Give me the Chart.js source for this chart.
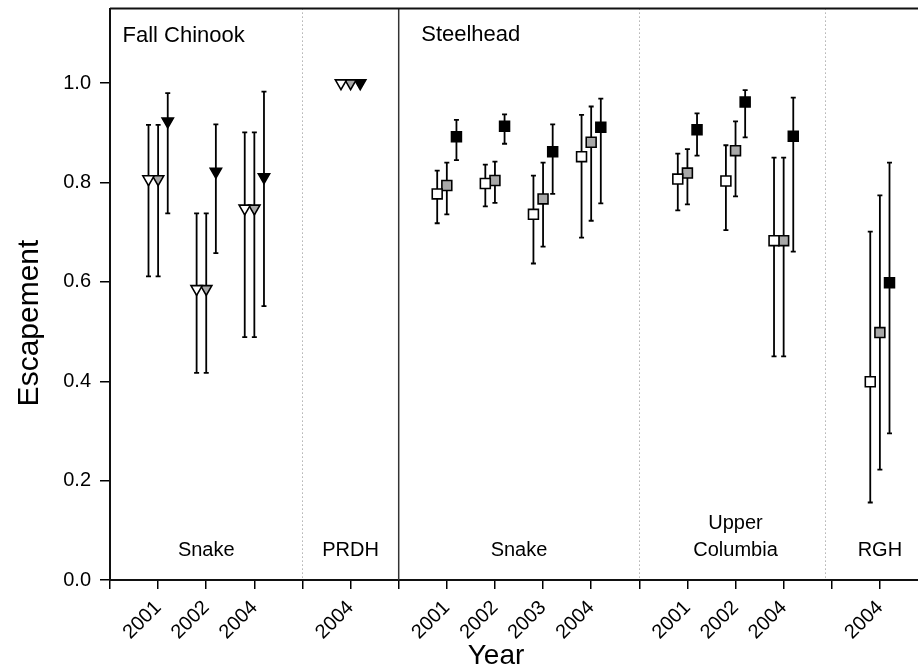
<!DOCTYPE html>
<html><head><meta charset="utf-8">
<script src="https://cdn.jsdelivr.net/npm/chart.js@4.4.1/dist/chart.umd.min.js"></script>
<style>
html,body{margin:0;padding:0;background:#fff;overflow:hidden;width:918px;height:667px}
#wrap{position:absolute;left:0;top:0;width:940px;height:667px}
</style></head>
<body><div id="wrap"><canvas id="c" width="940" height="667"></canvas></div>
<script>
// ---- data ----
const yearPositions = [1, 2, 3, 5, 7, 8, 9, 10, 12, 13, 14, 16];
const xTickLabels = ['', '2001', '2002', '2004', '', '2004', '', '2001', '2002', '2003', '2004', '', '2001', '2002', '2004', '', '2004', ''];
const yTickValues = [0, 0.2, 0.4, 0.6, 0.8, 1.0];

const openMean  = [0.807, 0.586, 0.748, 1.0, 0.777, 0.798, 0.736, 0.852, 0.807, 0.803, 0.683, 0.399];
const openLow   = [0.611, 0.417, 0.489, null, 0.718, 0.752, 0.637, 0.689, 0.744, 0.704, 0.450, 0.156];
const openHigh  = [0.916, 0.738, 0.901, null, 0.824, 0.836, 0.814, 0.936, 0.858, 0.875, 0.850, 0.701];

const grayMean  = [0.807, 0.586, 0.748, 1.0, 0.794, 0.804, 0.767, 0.881, 0.819, 0.864, 0.683, 0.498];
const grayLow   = [0.611, 0.417, 0.489, null, 0.736, 0.759, 0.671, 0.723, 0.756, 0.772, 0.450, 0.222];
const grayHigh  = [0.916, 0.738, 0.901, null, 0.840, 0.842, 0.840, 0.953, 0.867, 0.923, 0.850, 0.774];

const blackMean = [0.923, 0.822, 0.811, 1.0, 0.892, 0.913, 0.862, 0.911, 0.906, 0.962, 0.893, 0.598];
const blackLow  = [0.738, 0.658, 0.551, null, 0.845, 0.878, 0.777, 0.758, 0.854, 0.891, 0.661, 0.295];
const blackHigh = [0.980, 0.917, 0.983, null, 0.926, 0.937, 0.917, 0.969, 0.939, 0.986, 0.971, 0.840];

const chinookCount = 4; // first 4 year-clusters are Fall Chinook (triangles)
const topLabels = ['Fall Chinook', 'Steelhead'];
const bottomLabels = [['Snake'], ['PRDH'], ['Snake'], ['Upper', 'Columbia'], ['RGH']];
const bottomLabelPos = [2, 5, 8.5, 13, 16];
const dottedDividers = [4, 11, 14.86];
const solidDividers = [6];
const xTitle = 'Year';
const yTitle = 'Escapement';

// ---- build ----
const FONT = '"Liberation Sans", Arial, Helvetica, sans-serif';
function build(mean, low, high, off) {
  return yearPositions.map((x, i) => ({ x: x + off, y: mean[i], yMin: low[i], yMax: high[i] }));
}
const markerStyle = ctx => ctx.dataIndex < chinookCount ? 'triangle' : 'rect';
const markerRot = ctx => ctx.dataIndex < chinookCount ? 180 : 0;
const markerRad = ctx => ctx.dataIndex < chinookCount ? 6.5 : 7;

function ds(label, data, fill) {
  return {
    label, data, backgroundColor: fill, borderColor: '#000', borderWidth: 1.6,
    pointStyle: markerStyle, rotation: markerRot, pointRadius: markerRad,
    pointHoverRadius: markerRad, showLine: false
  };
}

const errorBars = {
  id: 'errorBars',
  beforeDatasetsDraw(chart) {
    const ctx = chart.ctx, ys = chart.scales.y;
    ctx.save();
    ctx.strokeStyle = '#000';
    ctx.lineWidth = 1.8;
    chart.data.datasets.forEach((d, di) => {
      const meta = chart.getDatasetMeta(di);
      d.data.forEach((p, i) => {
        if (p.yMin == null || p.yMax == null) return;
        const x = meta.data[i].x;
        const y1 = ys.getPixelForValue(p.yMin), y2 = ys.getPixelForValue(p.yMax);
        ctx.beginPath();
        ctx.moveTo(x, y1); ctx.lineTo(x, y2);
        ctx.moveTo(x - 2.5, y1); ctx.lineTo(x + 2.5, y1);
        ctx.moveTo(x - 2.5, y2); ctx.lineTo(x + 2.5, y2);
        ctx.stroke();
      });
    });
    ctx.restore();
  }
};

const decor = {
  id: 'decor',
  beforeDatasetsDraw(chart) {
    const ctx = chart.ctx, xs = chart.scales.x, a = chart.chartArea;
    ctx.save();
    // dotted dividers
    ctx.strokeStyle = '#888';
    ctx.lineWidth = 1;
    ctx.setLineDash([1, 3]);
    dottedDividers.forEach(v => {
      const x = Math.round(xs.getPixelForValue(v)) + 0.5;
      ctx.beginPath(); ctx.moveTo(x, a.top); ctx.lineTo(x, a.bottom); ctx.stroke();
    });
    ctx.setLineDash([]);
    ctx.strokeStyle = '#333';
    ctx.lineWidth = 1.5;
    solidDividers.forEach(v => {
      const x = xs.getPixelForValue(v);
      ctx.beginPath(); ctx.moveTo(x, a.top); ctx.lineTo(x, a.bottom); ctx.stroke();
    });
    // top frame line
    ctx.strokeStyle = '#111';
    ctx.lineWidth = 2;
    ctx.beginPath(); ctx.moveTo(a.left, a.top); ctx.lineTo(a.right, a.top); ctx.stroke();
    // group labels
    ctx.fillStyle = '#000';
    ctx.font = '22px ' + FONT;
    ctx.textAlign = 'left';
    ctx.textBaseline = 'alphabetic';
    ctx.fillText(topLabels[0], xs.getPixelForValue(0) + 12.5, a.top + 33.5);
    ctx.fillText(topLabels[1], xs.getPixelForValue(6) + 22.5, a.top + 32.5);
    ctx.font = '20px ' + FONT;
    ctx.textAlign = 'center';
    bottomLabels.forEach((lines, i) => {
      const x = xs.getPixelForValue(bottomLabelPos[i]);
      lines.forEach((t, j) => {
        ctx.fillText(t, x, a.bottom - 24 - (lines.length - 1 - j) * 27);
      });
    });
    // axis titles
    ctx.font = '28px ' + FONT;
    ctx.textAlign = 'center';
    ctx.fillText(xTitle, 496, 664);
    ctx.save();
    ctx.translate(38, 323);
    ctx.rotate(-Math.PI / 2);
    ctx.font = '30px ' + FONT;
    ctx.fillText(yTitle, 0, 0);
    ctx.restore();
    ctx.restore();
  }
};

new Chart(document.getElementById('c'), {
  type: 'scatter',
  data: {
    datasets: [
      ds('open', build(openMean, openLow, openHigh, -0.2), '#ffffff'),
      ds('gray', build(grayMean, grayLow, grayHigh, 0), '#a8a8a8'),
      ds('black', build(blackMean, blackLow, blackHigh, 0.2), '#000000')
    ]
  },
  options: {
    responsive: false, animation: false, devicePixelRatio: 1,
    layout: { padding: { left: 0, top: 8, right: 12, bottom: 0 } },
    plugins: { legend: { display: false }, tooltip: { enabled: false } },
    scales: {
      x: {
        type: 'linear', min: 0, max: 17,
        afterBuildTicks: s => { s.ticks = xTickLabels.map((_, i) => ({ value: i })); },
        afterFit: s => { s.height = 87; s.paddingLeft = 0; s.paddingRight = 0; },
        ticks: {
          autoSkip: false, maxRotation: 45, minRotation: 45, padding: 7,
          color: '#000', font: { family: FONT, size: 20 },
          callback: v => xTickLabels[Math.round(v)] || ''
        },
        grid: { drawOnChartArea: false, drawTicks: true, tickLength: 9, color: '#000', lineWidth: 1.5 },
        border: { color: '#111', width: 2 }
      },
      y: {
        min: 0, max: 1.15,
        afterBuildTicks: s => { s.ticks = yTickValues.map(v => ({ value: v })); },
        afterFit: s => { s.width = 110; s.paddingTop = 0; s.paddingBottom = 0; },
        ticks: {
          padding: 9, color: '#000', font: { family: FONT, size: 20 },
          callback: v => Number(v).toFixed(1)
        },
        grid: { drawOnChartArea: false, drawTicks: true, tickLength: 10, color: '#000', lineWidth: 1.5 },
        border: { color: '#111', width: 2 }
      }
    }
  },
  plugins: [decor, errorBars]
});
</script>
</body></html>
